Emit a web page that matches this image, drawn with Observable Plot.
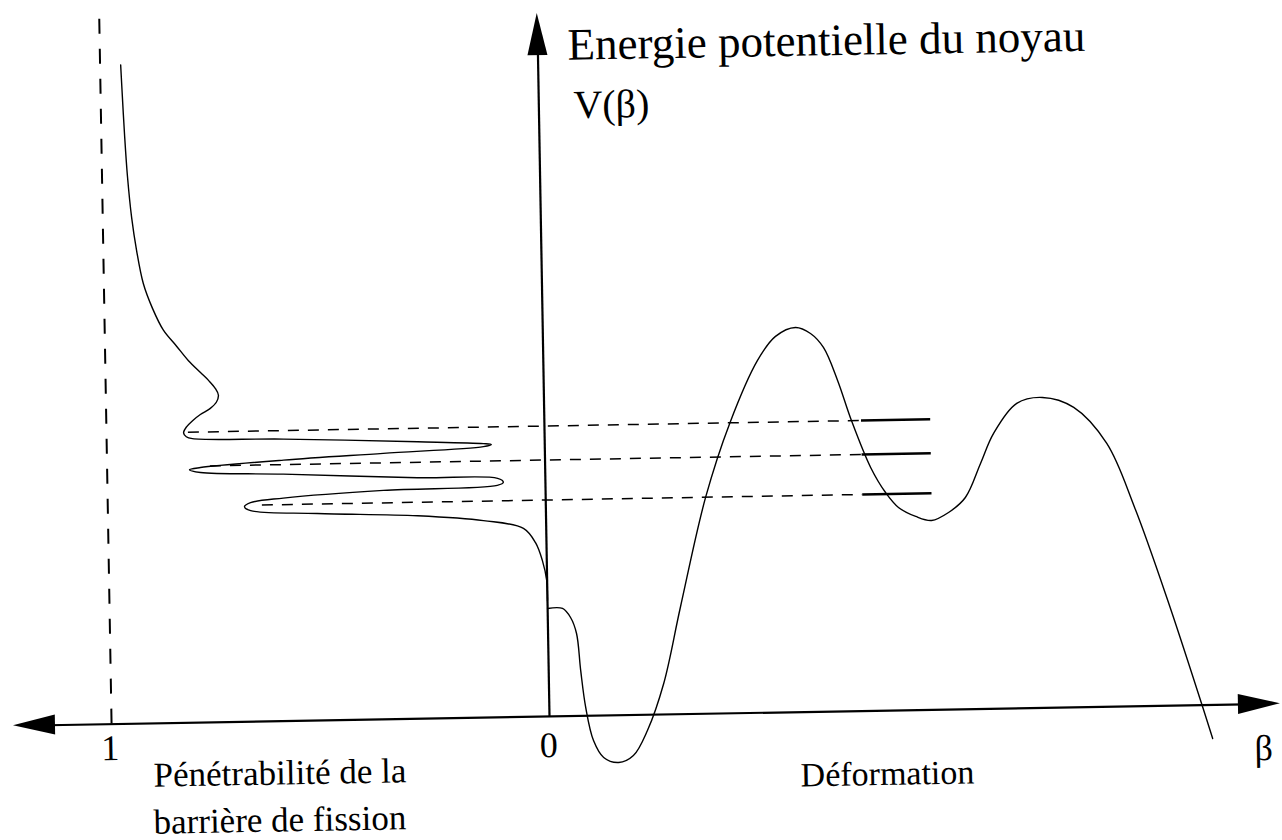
<!DOCTYPE html>
<html><head><meta charset="utf-8">
<script src="https://cdn.jsdelivr.net/npm/d3@7"></script>
<script src="https://cdn.jsdelivr.net/npm/@observablehq/plot@0.6"></script>
<style>
html,body{margin:0;padding:0;background:#fff;overflow:hidden;width:1282px;height:840px}
#chart svg{display:block;transform:rotate(-1deg);transform-origin:549px 716px;}
#chart svg text{font-family:"Liberation Serif","Times New Roman",serif !important;}
</style></head><body><div id="chart"></div>
<script>
// Pénétrabilité de la barrière de fission (left side): P (0..1) versus energy E
const penP = [0.953,0.950,0.947,0.942,0.934,0.924,0.910,0.890,0.866,0.837,0.810,0.783,0.765,0.750,0.743,0.748,0.762,0.785,0.803,0.817,0.824,0.818,0.804,0.596,0.290,0.140,0.122,0.140,0.369,0.597,0.787,0.812,0.787,0.598,0.292,0.109,0.096,0.110,0.370,0.599,0.674,0.688,0.674,0.522,0.293,0.143,0.052,0.025,0.010,0.001,0];
const penE = [6.59,6.23,5.90,5.48,5.06,4.73,4.40,4.15,3.93,3.77,3.62,3.50,3.42,3.34,3.27,3.20,3.14,3.08,3.02,2.96,2.90,2.86,2.84,2.82,2.77,2.74,2.73,2.71,2.66,2.61,2.55,2.53,2.50,2.47,2.41,2.39,2.35,2.32,2.29,2.23,2.19,2.15,2.11,2.07,2.03,1.97,1.885,1.74,1.56,1.36,1.16];

// Energie potentielle du noyau V(β) (right side)
const beta = [0,0.034,0.052,0.065,0.073,0.083,0.0995,0.122,0.156,0.190,0.223,0.262,0.303,0.365,0.423,0.489,0.531,0.577,0.611,0.640,0.671,0.701,0.743,0.776,0.805,0.844,0.880,0.919,0.958,0.994,1.025,1.079,1.138,1.209,1.283,1.344,1.416,1.489,1.513];
const V    = [1.08,1.078,0.986,0.825,0.455,0.084,-0.248,-0.419,-0.472,-0.405,-0.157,0.31,1.067,2.163,2.899,3.524,3.761,3.847,3.784,3.642,3.31,2.907,2.434,2.181,2.029,1.936,1.893,1.97,2.117,2.455,2.753,3.049,3.104,2.999,2.633,1.988,1.052,0.016,-0.336];

// States in the second well and the resonances they produce
const levelE = [2.905, 2.565, 2.165];
const levelStartP = [0.813, 0.764, 0.647];
const levelBeta = [0.724, 0.882];

// Axis extents
const axisLeftP = 1.224, axisRightBeta = 1.669, axisTopE = 7.03, unitLineTopE = 7.06;

// Labels
const labels   = ["Energie potentielle du noyau", "V(β)", "0", "1", "β", "Déformation", "Pénétrabilité de la", "barrière de fission"];
const labelX   = [0.068, 0.079, -0.003, -1.004, 1.629, 0.571, -0.906, -0.908];
const labelY   = [6.707, 6.106, -0.29, -0.243, -0.445, -0.634, -0.521, -0.991];
const labelAnc = ["start","start","middle","middle","middle","start","start","start"];
const labelSize = [45, 40, 36, 36, 36, 34, 35, 35];

// ---- layout ----
const W = 1282, H = 840;
const pxX = 438, pxE = 100;          // pixels per unit
const ox = 549, oy = 716;            // origin in pixels
const xDomain = [-ox / pxX, (W - ox) / pxX];
const yDomain = [-(H - oy) / pxE, oy / pxE];
const FONT = "'Liberation Serif', 'Times New Roman', serif";

const pen = penP.map((p, i) => ({x: -p, y: penE[i]}));
const pot = beta.map((b, i) => ({x: b, y: V[i]}));
const dashes = levelE.map((e, i) => ({x1: -levelStartP[i], x2: levelBeta[0], y: e}));
const solids = levelE.map(e => ({x1: levelBeta[0], x2: levelBeta[1], y: e}));
const text = labels.map((t, i) => ({t, x: labelX[i], y: labelY[i], a: labelAnc[i], s: labelSize[i]}));

const headL = 42, headW = 10;  // arrow head size in px
const hx = headL / pxX, hwE = headW / pxE, hE = headL / pxE, hwX = headW / pxX;
const rightHead = [{x: axisRightBeta - hx, y1: -hwE, y2: hwE}, {x: axisRightBeta, y1: 0, y2: 0}];
const leftHead  = [{x: -axisLeftP, y1: 0, y2: 0}, {x: -axisLeftP + hx, y1: -hwE, y2: hwE}];
const topHead   = [{y: axisTopE - hE, x1: -hwX, x2: hwX}, {y: axisTopE, x1: 0, x2: 0}];

const textMarks = text.map(d => Plot.text([d], {x: "x", y: "y", text: "t", textAnchor: d.a, lineAnchor: "middle", fontSize: d.s, fontFamily: FONT, fill: "black"}));

const chart = Plot.plot({
  width: W, height: H, margin: 0,
  x: {domain: xDomain, range: [0, W], axis: null},
  y: {domain: yDomain, range: [H, 0], axis: null},
  style: {background: "#fff", fontFamily: FONT},
  marks: [
    Plot.ruleX([-1], {y1: 0, y2: unitLineTopE, stroke: "black", strokeWidth: 2, strokeDasharray: "15,15"}),
    Plot.ruleY(dashes, {x1: "x1", x2: "x2", y: "y", stroke: "black", strokeWidth: 1.5, strokeDasharray: "11,9"}),
    Plot.ruleY(solids, {x1: "x1", x2: "x2", y: "y", stroke: "black", strokeWidth: 2.4}),
    Plot.ruleY([0], {x1: -axisLeftP + hx / 2, x2: axisRightBeta - hx / 2, stroke: "black", strokeWidth: 2.2}),
    Plot.ruleX([0], {y1: 0, y2: axisTopE - hE / 2, stroke: "black", strokeWidth: 2.2}),
    Plot.areaY(rightHead, {x: "x", y1: "y1", y2: "y2", fill: "black", curve: "linear"}),
    Plot.areaY(leftHead, {x: "x", y1: "y1", y2: "y2", fill: "black", curve: "linear"}),
    Plot.areaX(topHead, {y: "y", x1: "x1", x2: "x2", fill: "black", curve: "linear"}),
    Plot.line(pen, {x: "x", y: "y", stroke: "black", strokeWidth: 1.4, curve: "catmull-rom"}),
    Plot.line(pot, {x: "x", y: "y", stroke: "black", strokeWidth: 1.4, curve: "catmull-rom"}),
    ...textMarks
  ]
});
document.getElementById("chart").appendChild(chart);
</script></body></html>
